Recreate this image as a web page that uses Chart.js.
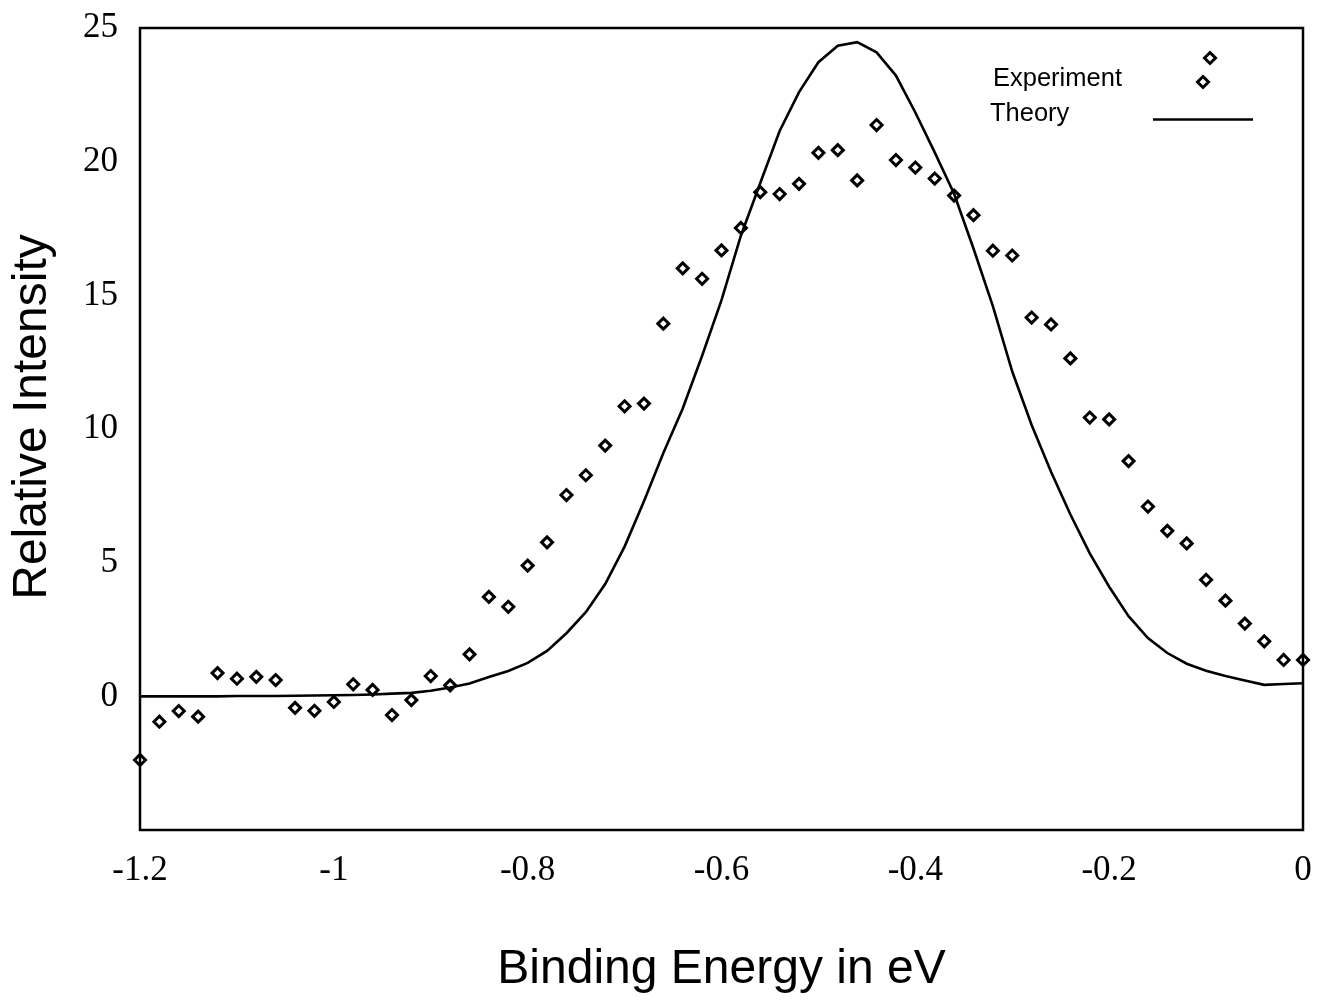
<!DOCTYPE html>
<html>
<head>
<meta charset="utf-8">
<title>Relative Intensity vs Binding Energy</title>
<script src="https://cdn.jsdelivr.net/npm/chart.js@4.4.1/dist/chart.umd.min.js"></script>
<style>
  html, body { margin: 0; padding: 0; background: #fff; }
  #wrap { width: 1319px; height: 1003px; }
</style>
</head>
<body>
<div id="wrap"><canvas id="grafico" width="1319" height="1003"></canvas></div>
<script>
// binding energy grid (eV)
const energias = [
  -1.20, -1.18, -1.16, -1.14, -1.12, -1.10, -1.08, -1.06, -1.04, -1.02,
  -1.00, -0.98, -0.96, -0.94, -0.92, -0.90, -0.88, -0.86, -0.84, -0.82,
  -0.80, -0.78, -0.76, -0.74, -0.72, -0.70, -0.68, -0.66, -0.64, -0.62,
  -0.60, -0.58, -0.56, -0.54, -0.52, -0.50, -0.48, -0.46, -0.44, -0.42,
  -0.40, -0.38, -0.36, -0.34, -0.32, -0.30, -0.28, -0.26, -0.24, -0.22,
  -0.20, -0.18, -0.16, -0.14, -0.12, -0.10, -0.08, -0.06, -0.04, -0.02,
  0.00
];

const experimento = [
  -2.38, -0.95, -0.55, -0.76, 0.87, 0.66, 0.73, 0.61, -0.43, -0.54,
  -0.21, 0.45, 0.24, -0.70, -0.14, 0.76, 0.41, 1.57, 3.72, 3.35,
  4.89, 5.76, 7.53, 8.27, 9.38, 10.85, 10.95, 13.94, 16.01, 15.62,
  16.68, 17.52, 18.86, 18.79, 19.17, 20.33, 20.43, 19.30, 21.37, 20.06,
  19.78, 19.37, 18.73, 18.00, 16.67, 16.49, 14.17, 13.91, 12.64, 10.43,
  10.36, 8.80, 7.10, 6.19, 5.72, 4.36, 3.58, 2.72, 2.06, 1.36,
  1.36
];

const teoria = [
  0.00, 0.00, 0.00, 0.00, 0.00, 0.01, 0.01, 0.01, 0.02, 0.03,
  0.04, 0.05, 0.07, 0.10, 0.13, 0.21, 0.33, 0.48, 0.72, 0.95,
  1.25, 1.70, 2.36, 3.15, 4.20, 5.60, 7.30, 9.10, 10.77, 12.74,
  14.82, 17.23, 19.20, 21.15, 22.60, 23.72, 24.34, 24.47, 24.09, 23.22,
  21.84, 20.35, 18.80, 16.75, 14.60, 12.15, 10.15, 8.40, 6.80, 5.35,
  4.10, 3.00, 2.18, 1.62, 1.22, 0.96, 0.76, 0.59, 0.43, 0.46,
  0.49
];

const xTicks = [-1.2, -1.0, -0.8, -0.6, -0.4, -0.2, 0];
const xTickLabels = ['-1.2', '-1', '-0.8', '-0.6', '-0.4', '-0.2', '0'];
const yTicks = [-5, 0, 5, 10, 15, 20, 25];
const yTickLabels = ['', '0', '5', '10', '15', '20', '25'];

const tituloX = 'Binding Energy in eV';
const tituloY = 'Relative Intensity';

const pontosExp = energias.map((e, i) => ({ x: e, y: experimento[i] }));
const pontosTeo = energias.map((e, i) => ({ x: e, y: teoria[i] }));

// diamond marker used by the legend
function losango(ctx, x, y, r) {
  ctx.beginPath();
  ctx.moveTo(x, y - r);
  ctx.lineTo(x + r, y);
  ctx.lineTo(x, y + r);
  ctx.lineTo(x - r, y);
  ctx.closePath();
  ctx.fillStyle = '#fff';
  ctx.fill();
  ctx.lineWidth = 3;
  ctx.strokeStyle = '#000';
  ctx.stroke();
}

// frame around the plot, y title and hand placed legend
const moldura = {
  id: 'moldura',
  afterDraw(chart) {
    const { ctx, chartArea: a } = chart;
    ctx.save();
    ctx.strokeStyle = '#000';
    ctx.lineWidth = 2.5;
    ctx.strokeRect(a.left, a.top, a.right - a.left, a.bottom - a.top);

    // y title sits a bit above the middle of the axis in the original
    ctx.save();
    ctx.translate(33, 417);
    ctx.rotate(-Math.PI / 2);
    ctx.font = '48px "Liberation Sans", Arial, sans-serif';
    ctx.fillStyle = '#000';
    ctx.textAlign = 'center';
    ctx.textBaseline = 'middle';
    ctx.fillText(tituloY, 0, 0);
    ctx.restore();

    ctx.font = '25.5px "Liberation Sans", Arial, sans-serif';
    ctx.fillStyle = '#000';
    ctx.textBaseline = 'middle';
    ctx.textAlign = 'left';
    ctx.fillText('Experiment', 993, 79);
    ctx.fillText('Theory', 990, 114);
    losango(ctx, 1210, 58, 5.5);
    losango(ctx, 1203, 82, 5.5);
    ctx.beginPath();
    ctx.lineWidth = 2.5;
    ctx.moveTo(1153, 119.5);
    ctx.lineTo(1253, 119.5);
    ctx.stroke();
    ctx.restore();
  }
};

const ctx = document.getElementById('grafico').getContext('2d');

new Chart(ctx, {
  type: 'scatter',
  data: {
    datasets: [
      {
        label: 'Theory',
        data: pontosTeo,
        showLine: true,
        borderColor: '#000',
        borderWidth: 2.6,
        tension: 0,
        pointRadius: 0,
        pointHoverRadius: 0
      },
      {
        label: 'Experiment',
        data: pontosExp,
        pointStyle: 'rectRot',
        pointRadius: 5.5,
        pointHoverRadius: 5.5,
        pointBorderWidth: 3,
        borderColor: '#000',
        backgroundColor: '#fff',
        clip: false
      }
    ]
  },
  options: {
    responsive: false,
    animation: false,
    layout: { padding: { top: 28, right: 16, left: 0, bottom: 0 } },
    plugins: {
      legend: { display: false },
      tooltip: { enabled: false }
    },
    scales: {
      x: {
        type: 'linear',
        min: -1.2,
        max: 0,
        afterBuildTicks: (s) => { s.ticks = xTicks.map(v => ({ value: v })); },
        afterFit: (s) => { s.height = 173; s.paddingLeft = 0; s.paddingRight = 0; },
        grid: { display: false, drawTicks: false },
        border: { display: false },
        ticks: {
          padding: 20,
          color: '#000',
          font: { family: '"Liberation Serif", "Times New Roman", serif', size: 35 },
          callback: (v, i) => xTickLabels[i]
        },
        title: {
          display: true,
          text: tituloX,
          color: '#000',
          font: { family: '"Liberation Sans", Arial, sans-serif', size: 48 },
          padding: { top: 0, bottom: 4 }
        }
      },
      y: {
        type: 'linear',
        min: -5,
        max: 25,
        afterBuildTicks: (s) => { s.ticks = yTicks.map(v => ({ value: v })); },
        afterFit: (s) => { s.width = 140; s.paddingTop = 0; s.paddingBottom = 0; },
        grid: { display: false, drawTicks: false },
        border: { display: false },
        ticks: {
          padding: 22,
          color: '#000',
          font: { family: '"Liberation Serif", "Times New Roman", serif', size: 35 },
          callback: (v, i) => yTickLabels[i]
        },
        title: { display: false }
      }
    }
  },
  plugins: [moldura]
});
</script>
</body>
</html>
